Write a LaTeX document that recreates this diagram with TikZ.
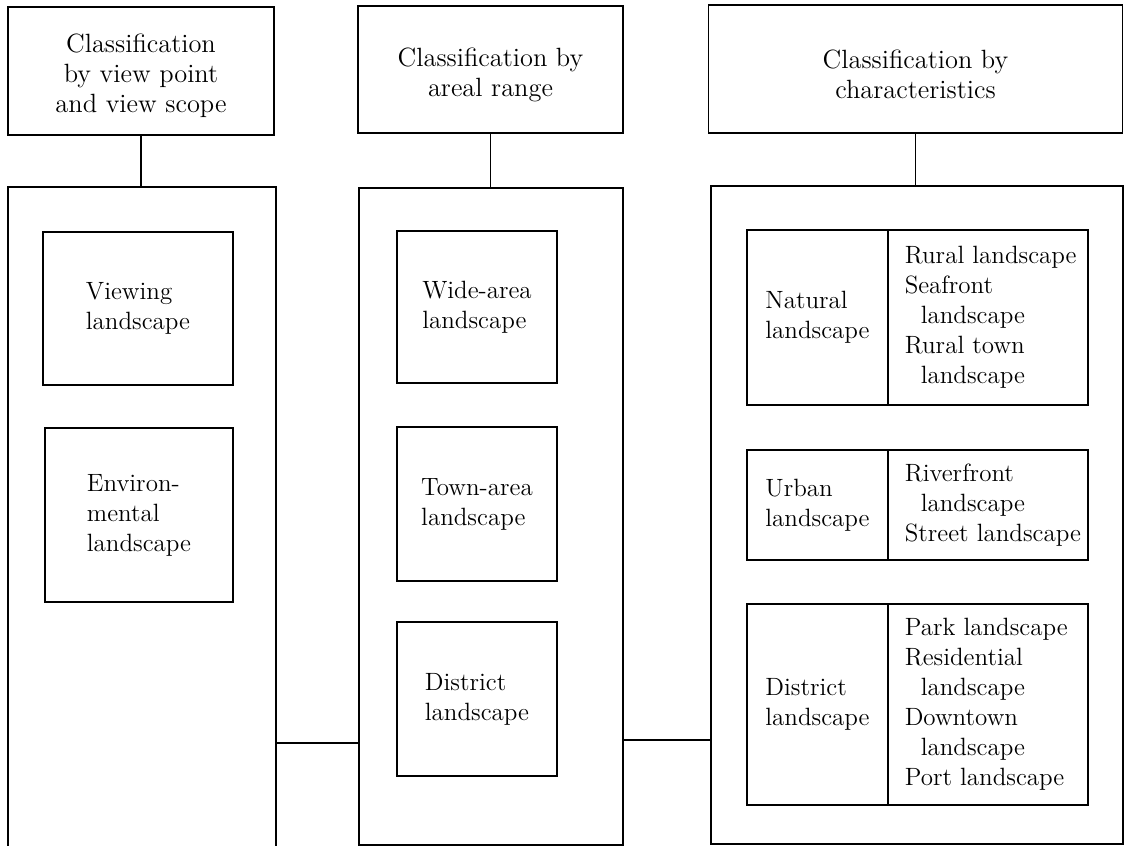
\documentclass[tikz,border=0pt]{standalone}
\usepackage{fontspec}
\begin{document}
\begin{tikzpicture}[x=0.5pt,y=-0.5pt,
  txt/.style={font=\fontsize{12.5}{15}\selectfont},
  head/.style={draw,line width=0.9pt,inner sep=0pt},
  headtxt/.style={font=\fontsize{13.2}{15}\selectfont,align=center,inner sep=0pt,yshift=-2.5pt},
  big/.style={line width=0.9pt,inner sep=0pt},
  inbox/.style={draw,line width=0.65pt,txt,align=left,inner sep=0pt},
  cell/.style={draw,line width=0.65pt,inner sep=0pt},
  list/.style={txt,align=left,anchor=west,inner sep=0pt},
  link/.style={line width=0.6pt}]
\useasboundingbox (0,0) rectangle (1125,846);
% headers
\node[head,minimum width=133pt,minimum height=64pt] (h1) at (141,71) {};
\node[headtxt] (h1t) at (h1.center) {Classification\\by view point\\and view scope};
\node[head,minimum width=132.5pt,minimum height=63.5pt] (h2) at (490.5,69.5) {};
\node[headtxt] (h2t) at (h2.center) {Classification by\\areal range};
\node[head,minimum width=207pt,minimum height=64pt] (h3) at (915.5,69) {};
\node[headtxt] (h3t) at (h3.center) {Classification by\\characteristics};
% big boxes
\node[big,minimum width=133pt,minimum height=330pt] (b1) at (142,518) {};
\draw[big] (b1.south west) -- (b1.north west) -- (b1.north east) -- (b1.south east);
\node[big,draw,minimum width=132pt,minimum height=328.5pt] (b2) at (491,516.5) {};
\node[big,draw,minimum width=206pt,minimum height=329pt] (b3) at (917,515) {};
% vertical links
\draw[link] (h1.south) -- (h1.south |- b1.north);
\draw[link] (h2.south) -- (h2.south |- b2.north);
\draw[link] (h3.south) -- (h3.south |- b3.north);
% horizontal links
\draw[link] (b1.east |- 0,743) -- (b2.west |- 0,743);
\draw[link] (b2.east |- 0,740) -- (b3.west |- 0,740);
% column 1
\node[inbox,minimum width=95pt,minimum height=76.5pt] (v1) at (138,308.5)
  {Viewing\\landscape};
\node[inbox,minimum width=94pt,minimum height=87pt] (v2) at (139,515)
  {Environ-\\mental\\landscape};
% column 2
\node[inbox,minimum width=80pt,minimum height=76pt] (a1) at (477,307)
  {Wide-area\\landscape};
\node[inbox,minimum width=80pt,minimum height=77pt] (a2) at (477,504)
  {Town-area\\landscape};
\node[inbox,minimum width=80pt,minimum height=77pt] (a3) at (477,699)
  {District\\landscape};
% column 3
\node[inbox,minimum width=70.5pt,minimum height=87.5pt] (n1) at (817.5,317.5)
  {Natural\\landscape};
\node[cell,minimum width=100pt,minimum height=87.5pt] (n2) at (988,317.5) {};
\node[list] (nt) at ([xshift=8.5pt]n2.west)
  {Rural landscape\\Seafront\\\hspace*{8pt}landscape\\Rural town\\\hspace*{8pt}landscape};
\node[inbox,minimum width=70.5pt,minimum height=55pt] (u1) at (817.5,505)
  {Urban\\landscape};
\node[cell,minimum width=100pt,minimum height=55pt] (u2) at (988,505) {};
\node[list] (ut) at ([xshift=8.5pt]u2.west)
  {Riverfront\\\hspace*{8pt}landscape\\Street landscape};
\node[inbox,minimum width=70.5pt,minimum height=100.5pt] (d1) at (817.5,704.5)
  {District\\landscape};
\node[cell,minimum width=100pt,minimum height=100.5pt] (d2) at (988,704.5) {};
\node[list] (dt) at ([xshift=8.5pt]d2.west)
  {Park landscape\\Residential\\\hspace*{8pt}landscape\\Downtown\\\hspace*{8pt}landscape\\Port landscape};
\end{tikzpicture}
\end{document}
